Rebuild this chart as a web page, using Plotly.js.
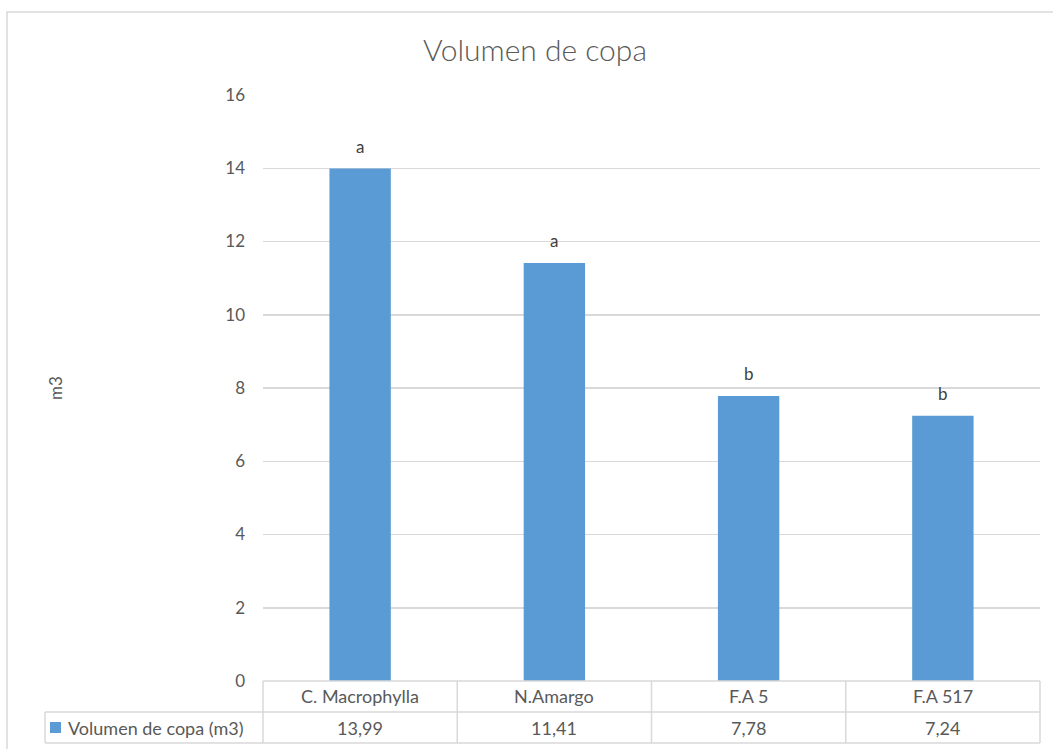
<!DOCTYPE html>
<html>
<head>
<meta charset="utf-8">
<script src="https://cdn.plot.ly/plotly-3.0.1.min.js"></script>
<style>
  html, body { margin: 0; padding: 0; background: #fff; }
</style>
</head>
<body>
<div id="chart" style="width:1053px;height:749px;"></div>
<script>
// data
var categories = ['C. Macrophylla', 'N.Amargo', 'F.A 5', 'F.A 517'];
var values = [13.99, 11.41, 7.78, 7.24];
var valueLabels = ['13,99', '11,41', '7,78', '7,24'];
var groupLetters = ['a', 'a', 'b', 'b'];
var yTicks = [0, 2, 4, 6, 8, 10, 12, 14, 16];
var seriesName = 'Volumen de copa (m3)';

var W = 1053, H = 749;
var margin = { l: 263, r: 13, t: 95, b: 68 };
var plotW = W - margin.l - margin.r;
var plotH = H - margin.t - margin.b;

// pixel -> paper helpers (for decoration only)
function px2x(px) { return (px - margin.l) / plotW; }
function py2y(py) { return (H - margin.b - py) / plotH; }

var gridColor = '#D9D9D9';
var textColor = '#595959';
var fontFamily = 'Lato, "Open Sans", sans-serif';
var rowH = 31 / plotH;
var headLeft = px2x(45);

var barTrace = {
    type: 'bar',
    x: categories,
    y: values,
    name: seriesName,
    width: 0.316,
    marker: { color: '#5B9BD5', line: { width: 0 } },
    hoverinfo: 'x+y',
    showlegend: false
};

var shapes = [];
var annotations = [];

function hline(x0, x1, y) {
    shapes.push({ type: 'line', xref: 'paper', yref: 'paper', x0: x0, x1: x1, y0: y, y1: y,
        line: { color: gridColor, width: 1.5 } });
}
function vline(x, y0, y1) {
    shapes.push({ type: 'line', xref: 'paper', yref: 'paper', x0: x, x1: x, y0: y0, y1: y1,
        line: { color: gridColor, width: 1.5 } });
}

// data table under the axis
hline(0, 1, 0);
hline(headLeft, 1, -rowH);
hline(headLeft, 1, -2 * rowH);
for (var k = 0; k <= categories.length; k++) {
    vline(k / categories.length, 0, -2 * rowH);
}
vline(headLeft, -rowH, -2 * rowH);

// legend key in header cell
shapes.push({ type: 'rect', xref: 'paper', yref: 'paper',
    x0: px2x(50), x1: px2x(61), y0: py2y(733), y1: py2y(722),
    fillcolor: '#5B9BD5', line: { width: 0 } });

// outer chart border
shapes.push({ type: 'rect', xref: 'paper', yref: 'paper',
    x0: px2x(7), x1: px2x(1060), y0: py2y(760), y1: py2y(12),
    line: { color: gridColor, width: 1.5 } });

annotations.push({ xref: 'paper', yref: 'paper', x: px2x(66), y: -1.5 * rowH,
    xanchor: 'left', yanchor: 'middle', text: seriesName, showarrow: false,
    font: { family: fontFamily, size: 18, color: textColor } });

for (var i = 0; i < categories.length; i++) {
    annotations.push({ xref: 'x', yref: 'paper', x: categories[i], y: -0.5 * rowH,
        yanchor: 'middle', text: categories[i], showarrow: false,
        font: { family: fontFamily, size: 18, color: textColor } });
    annotations.push({ xref: 'x', yref: 'paper', x: categories[i], y: -1.5 * rowH,
        yanchor: 'middle', text: valueLabels[i], showarrow: false,
        font: { family: fontFamily, size: 18, color: textColor } });
    annotations.push({ xref: 'x', yref: 'y', x: categories[i], y: values[i],
        yanchor: 'bottom', yshift: 10, text: groupLetters[i], showarrow: false,
        font: { family: fontFamily, size: 17, color: '#404040' } });
}

var layout = {
    width: W,
    height: H,
    margin: margin,
    paper_bgcolor: '#fff',
    plot_bgcolor: '#fff',
    font: { family: fontFamily, color: textColor, size: 17 },
    title: {
        text: 'Volumen de copa',
        font: { family: fontFamily, size: 30, color: textColor, weight: 300 },
        xref: 'container', x: 535 / W,
        yref: 'container', y: 1 - 50 / H, yanchor: 'middle'
    },
    xaxis: {
        type: 'category',
        range: [-0.5, categories.length - 0.5],
        showticklabels: false,
        showgrid: false,
        zeroline: false,
        showline: false,
        fixedrange: true
    },
    yaxis: {
        range: [0, 16],
        tickvals: yTicks,
        showgrid: true,
        gridcolor: gridColor,
        gridwidth: 1.5,
        zeroline: false,
        showline: false,
        ticks: '',
        ticklabelstandoff: 17,
        tickfont: { family: fontFamily, size: 17, color: textColor },
        title: { text: 'm3', standoff: 158, font: { family: fontFamily, size: 17, color: textColor } },
        fixedrange: true
    },
    shapes: shapes,
    annotations: annotations,
    bargap: 0.684
};

Plotly.newPlot('chart', [barTrace], layout, { displayModeBar: false, staticPlot: true });
</script>
</body>
</html>
